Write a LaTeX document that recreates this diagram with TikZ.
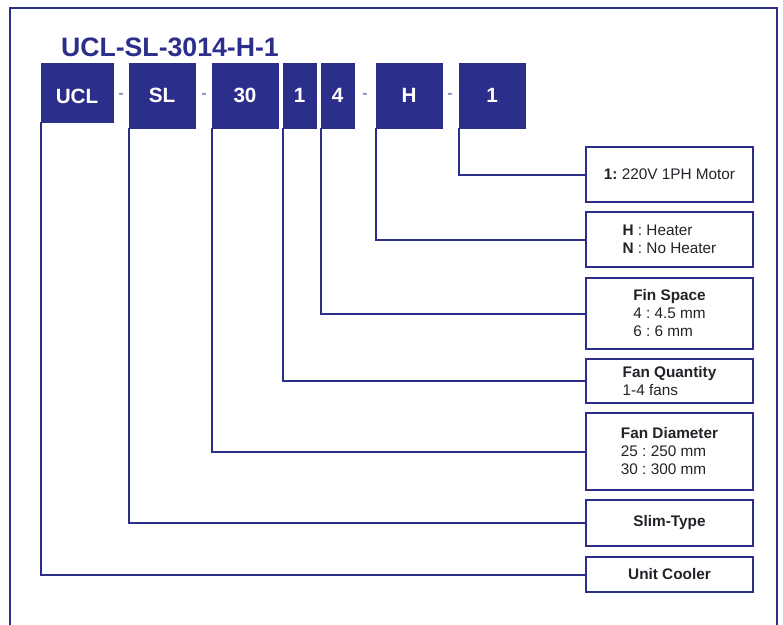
\documentclass[tikz,border=0pt]{standalone}
\usepackage{fontspec}
\setmainfont{Liberation Sans}
\usepackage{xcolor}
\definecolor{navy}{RGB}{44,46,140}
\definecolor{ink}{RGB}{34,34,40}
\frenchspacing

\begin{document}
\begin{tikzpicture}[x=0.75pt, y=-0.75pt, line width=1.5pt]
    \tikzset{code/.style={fill=navy, draw=navy, line width=0pt, anchor=north west,
             minimum width=49.5pt, minimum height=48.75pt, inner sep=0pt,
             text=white, font=\fontsize{15.5}{17}\selectfont\bfseries},
             narrow/.style={code, minimum width=24.75pt},
             desc/.style={draw=navy, anchor=north west, minimum width=125.25pt,
             align=left, inner sep=2pt, text=ink,
             font=\fontsize{11.5}{13.5}\selectfont},
             sep/.style={text=navy!55, font=\fontsize{12}{14}\selectfont\bfseries},
             link/.style={draw=navy}}
    \useasboundingbox (0,0) rectangle (783,625);
    \draw[navy] (10,630) -- (10,8) -- (777,8) -- (777,630);
    \node[anchor=base west, text=navy, inner sep=0pt,
          font=\fontsize{20}{24}\selectfont\bfseries] (title) at (60,56) {UCL-SL-3014-H-1};
    % code boxes
    \node[code, minimum width=54pt, minimum height=44.25pt,
          text height=17pt, text depth=0pt] (ucl) at (41,63) {UCL};
    \node[code] (sl)   at (129,63) {SL};
    \node[code] (dia)  at (212,63) {30};
    \node[narrow] (qty) at (283,63) {1};
    \node[narrow] (fin) at (321,63) {4};
    \node[code] (heat) at (376,63) {H};
    \node[code] (mot)  at (459,63) {1};
    \node[sep] (s1) at (121,96) {-};
    \node[sep] (s2) at (204,96) {-};
    \node[sep] (s3) at (365,96) {-};
    \node[sep] (s4) at (450,96) {-};
    % descriptions
    \node[desc, minimum height=41.25pt] (dmot) at (585,146)
      {\textbf{1:} 220V 1PH Motor};
    \node[desc, minimum height=41.25pt] (dheat) at (585,211)
      {\textbf{H} : Heater\\\textbf{N} : No Heater};
    \node[desc, minimum height=53.25pt] (dfin) at (585,277)
      {\textbf{Fin Space}\\4 : 4.5 mm\\6 : 6 mm};
    \node[desc, minimum height=33pt] (dqty) at (585,358)
      {\textbf{Fan Quantity}\\1-4 fans};
    \node[desc, minimum height=57.75pt] (ddia) at (585,412)
      {\textbf{Fan Diameter}\\25 : 250 mm\\30 : 300 mm};
    \node[desc, minimum height=34.5pt] (dslim) at (585,499)
      {\textbf{Slim-Type}};
    \node[desc, minimum height=26.25pt] (dunit) at (585,556)
      {\textbf{Unit Cooler}};
    % connectors
    \draw[link] (mot.south west)  |- (dmot.west);
    \draw[link] (heat.south west) |- (dheat.west);
    \draw[link] (fin.south west)  |- (dfin.west);
    \draw[link] (qty.south west)  |- (dqty.west);
    \draw[link] (dia.south west)  |- (ddia.west);
    \draw[link] (sl.south west)   |- (dslim.west);
    \draw[link] (ucl.south west)  |- (dunit.west);
\end{tikzpicture}
\end{document}
